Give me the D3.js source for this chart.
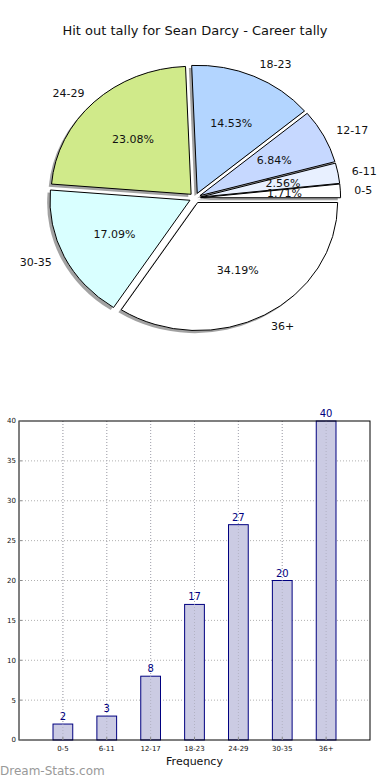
<!DOCTYPE html>
<html>
<head>
<meta charset="utf-8">
<script src="https://cdn.jsdelivr.net/npm/d3@7/dist/d3.min.js"></script>
<style>
  body { margin: 0; background: #fff; }
  text { font-family: "DejaVu Sans", sans-serif; }
</style>
</head>
<body>
<script>
// data
const categories = ["0-5", "6-11", "12-17", "18-23", "24-29", "30-35", "36+"];
const counts = [2, 3, 8, 17, 27, 20, 40];
const pieColors = ["#ffffff", "#e8f0ff", "#c6d8ff", "#b3d5ff", "#d0ea8a", "#d9ffff", "#ffffff"];
const yTicks = [0, 5, 10, 15, 20, 25, 30, 35, 40];

const W = 390, H = 780;
const svg = d3.select("body").append("svg")
  .attr("width", W).attr("height", H);

svg.append("text")
  .attr("x", 195).attr("y", 35)
  .attr("text-anchor", "middle")
  .style("font-size", "13px")
  .attr("fill", "#111")
  .text("Hit out tally for Sean Darcy - Career tally");

// ---- pie (ellipse, like matplotlib on unequal axes)
const cx = 195, cy = 198, rx = 140, ry = 128, explode = 0.04;
const total = d3.sum(counts);

const pie = d3.pie().sort(null)
  .startAngle(Math.PI / 2).endAngle(Math.PI / 2 - 2 * Math.PI);
const slices = pie(counts);
const arc = d3.arc().innerRadius(0).outerRadius(1);

const midXY = d => {
  const a = (d.startAngle + d.endAngle) / 2;
  return [Math.sin(a), -Math.cos(a)];
};

const pieG = svg.append("g");

// shadows
pieG.selectAll(".shadow")
  .data(slices)
  .enter().append("path")
  .attr("class", "shadow")
  .attr("d", arc)
  .attr("transform", d => {
    const [mx, my] = midXY(d);
    return `translate(${cx + explode * rx * mx - 2.8},${cy + explode * ry * my + 2.6}) scale(${rx},${ry})`;
  })
  .attr("fill", "#555")
  .attr("opacity", 0.55);

pieG.selectAll(".wedge")
  .data(slices)
  .enter().append("path")
  .attr("class", "wedge")
  .attr("d", arc)
  .attr("transform", d => {
    const [mx, my] = midXY(d);
    return `translate(${cx + explode * rx * mx},${cy + explode * ry * my}) scale(${rx},${ry})`;
  })
  .attr("fill", (d, i) => pieColors[i])
  .attr("stroke", "#000")
  .attr("stroke-width", 1)
  .attr("vector-effect", "non-scaling-stroke");

// category labels
pieG.selectAll(".lbl")
  .data(slices)
  .enter().append("text")
  .attr("class", "lbl")
  .attr("x", d => cx + (1.1 + explode) * rx * midXY(d)[0])
  .attr("y", d => cy + (1.1 + explode) * ry * midXY(d)[1])
  .attr("dy", "0.35em")
  .attr("text-anchor", d => midXY(d)[0] > 0 ? "start" : "end")
  .style("font-size", "11px")
  .attr("fill", "#111")
  .text((d, i) => categories[i]);

// percentages
pieG.selectAll(".pct")
  .data(slices)
  .enter().append("text")
  .attr("class", "pct")
  .attr("x", d => cx + (0.6 + explode) * rx * midXY(d)[0])
  .attr("y", d => cy + (0.6 + explode) * ry * midXY(d)[1])
  .attr("dy", "0.35em")
  .attr("text-anchor", "middle")
  .style("font-size", "11px")
  .attr("fill", "#111")
  .text(d => (100 * d.value / total).toFixed(2) + "%");

// ---- bar chart
const pLeft = 19, pRight = 370, pTop = 421, pBottom = 740;
const x = d3.scaleLinear().domain([-1, 7]).range([pLeft, pRight]);
const y = d3.scaleLinear().domain([0, 40]).range([pBottom, pTop]);
const barW = 0.45;

const g = svg.append("g");

// grid
g.selectAll(".hgrid")
  .data(yTicks.slice(1, -1))
  .enter().append("line")
  .attr("x1", pLeft).attr("x2", pRight)
  .attr("y1", d => y(d)).attr("y2", d => y(d))
  .attr("stroke", "#b0b0b0").attr("stroke-dasharray", "1,2");

g.selectAll(".vgrid")
  .data(categories)
  .enter().append("line")
  .attr("x1", (d, i) => x(i)).attr("x2", (d, i) => x(i))
  .attr("y1", pTop).attr("y2", pBottom)
  .attr("stroke", "#b0b0b0").attr("stroke-dasharray", "1,2");

// bars
g.selectAll(".bar")
  .data(counts)
  .enter().append("rect")
  .attr("x", (d, i) => x(i - barW / 2))
  .attr("width", x(barW) - x(0))
  .attr("y", d => y(d))
  .attr("height", d => pBottom - y(d))
  .attr("fill", "#cbcbe3")
  .attr("stroke", "#000080")
  .attr("stroke-width", 1);

// grid shows through the bars
g.selectAll(".vgrid2")
  .data(categories)
  .enter().append("line")
  .attr("x1", (d, i) => x(i)).attr("x2", (d, i) => x(i))
  .attr("y1", pTop).attr("y2", pBottom)
  .attr("stroke", "#a8a8b8").attr("stroke-dasharray", "1,2").attr("opacity", 0.7);

g.selectAll(".val")
  .data(counts)
  .enter().append("text")
  .attr("x", (d, i) => x(i))
  .attr("y", d => y(d) - 4)
  .attr("text-anchor", "middle")
  .style("font-size", "10px")
  .attr("fill", "#000080")
  .text(d => d);

// frame
g.append("rect")
  .attr("x", pLeft).attr("y", pTop)
  .attr("width", pRight - pLeft).attr("height", pBottom - pTop)
  .attr("fill", "none").attr("stroke", "#000").attr("stroke-width", 1);

// y ticks
g.selectAll(".ytl")
  .data(yTicks)
  .enter().append("text")
  .attr("x", pLeft - 3)
  .attr("y", d => y(d))
  .attr("dy", "0.35em")
  .attr("text-anchor", "end")
  .style("font-size", "7px")
  .attr("fill", "#111")
  .text(d => d);

g.selectAll(".ytk")
  .data(yTicks)
  .enter().append("line")
  .attr("x1", pLeft).attr("x2", pLeft + 3)
  .attr("y1", d => y(d)).attr("y2", d => y(d))
  .attr("stroke", "#888");

g.selectAll(".xtk")
  .data(categories)
  .enter().append("line")
  .attr("x1", (d, i) => x(i)).attr("x2", (d, i) => x(i))
  .attr("y1", pBottom).attr("y2", pBottom - 3)
  .attr("stroke", "#888");

g.selectAll(".xtl")
  .data(categories)
  .enter().append("text")
  .attr("x", (d, i) => x(i))
  .attr("y", pBottom + 11)
  .attr("text-anchor", "middle")
  .style("font-size", "7px")
  .attr("fill", "#111")
  .text(d => d);

svg.append("text")
  .attr("x", (pLeft + pRight) / 2).attr("y", 765)
  .attr("text-anchor", "middle")
  .style("font-size", "11px")
  .attr("fill", "#111")
  .text("Frequency");

svg.append("text")
  .attr("x", 0).attr("y", 775)
  .style("font-size", "12px")
  .attr("fill", "#999")
  .text("Dream-Stats.com");
</script>
</body>
</html>
